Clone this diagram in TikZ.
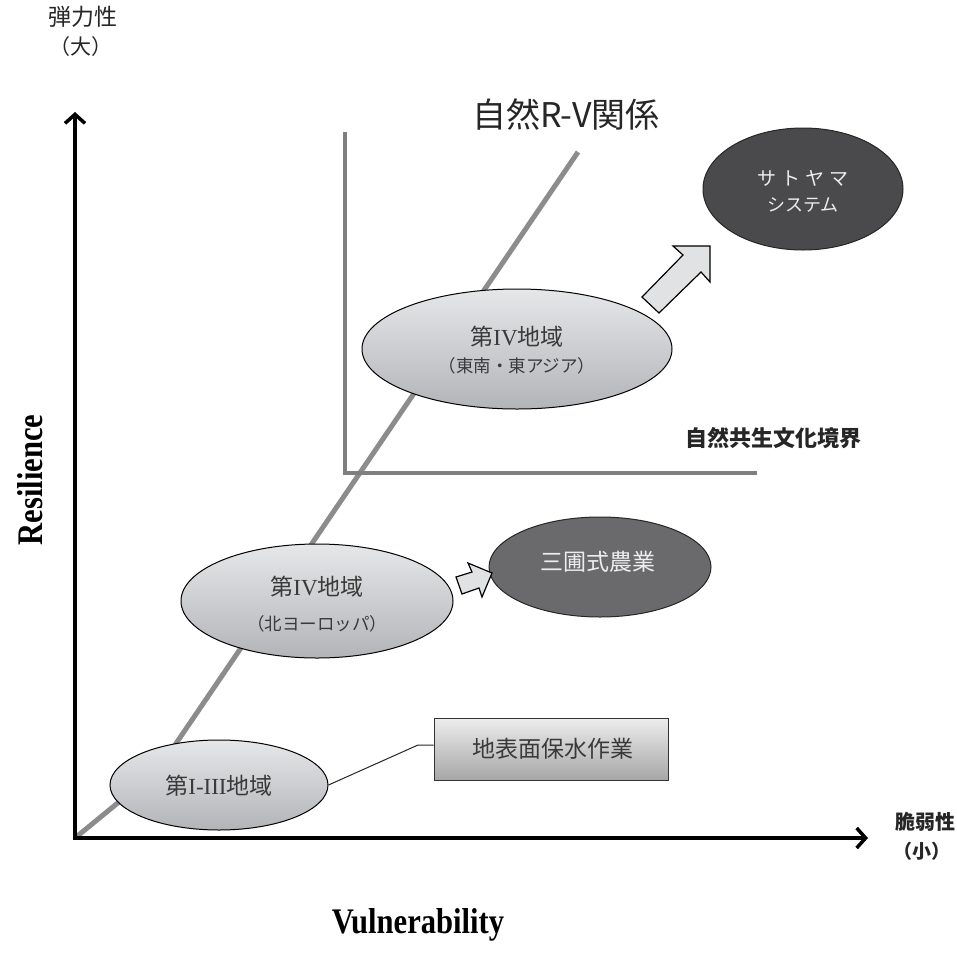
\documentclass[tikz,border=0pt]{standalone}
\usepackage{fontspec}
\setmainfont{Liberation Serif}
\newfontfamily\jp{Noto Sans CJK JP}
\usetikzlibrary{arrows.meta,shapes.geometric}
\definecolor{lgtop}{HTML}{E6E7E9}
\definecolor{lgbot}{HTML}{B3B4B7}
\definecolor{txtg}{HTML}{3A3A3A}
\definecolor{dk1}{HTML}{4A4A4C}
\definecolor{dk2}{HTML}{6A6A6D}
\definecolor{rvgray}{HTML}{8C8C8C}
\definecolor{bdgray}{HTML}{7F7F80}
\definecolor{arrfill}{HTML}{E1E2E4}
\definecolor{rtop}{HTML}{EDEDED}
\definecolor{rbot}{HTML}{A6A6A6}
\tikzset{
  lightell/.style={ellipse, draw=black, line width=1pt, top color=lgtop, bottom color=lgbot, inner sep=0pt},
  darkell/.style={ellipse, draw=black!85, line width=1pt, inner sep=0pt},
  lab/.style={inner sep=0pt, text=txtg},
  wlab/.style={inner sep=0pt, text=white!93!black},
  axisline/.style={line width=4pt, line join=miter, {Straight Barb[length=9pt,width=20pt,line width=3.5pt]}-{Straight Barb[length=9pt,width=20pt,line width=3.5pt]}},
  rvline/.style={draw=rvgray, line width=5pt},
  border/.style={draw=bdgray, line width=4.5pt},
  blockarrow/.style={draw=black, line width=1.2pt, fill=arrfill, line join=miter},
  axlab/.style={inner sep=0pt, text=black!85}
}
\begin{document}
\begin{tikzpicture}[x=1pt,y=-1pt]
\useasboundingbox (0,0) rectangle (957,962);
\fill[white] (0,0) rectangle (957,962);

% named coordinates
\coordinate (O) at (75,838);
\coordinate (ytip) at (75,112);
\coordinate (xtip) at (868,838);
\coordinate (bend) at (158,770);
\coordinate (rvtop) at (578,152);
\coordinate (bd1) at (345,132);
\coordinate (bd2) at (345,473);
\coordinate (bd3) at (757,473);

% R-V relation line and boundary
\draw[rvline] (O) -- (bend) -- (rvtop);
\draw[border] (bd1) -- (bd2) -- (bd3);

% axes
\draw[axisline] (ytip) -- (O) -- (xtip);

% title and labels
\node[axlab] (title) at (566,114) {\jp\fontsize{34pt}{38pt}\selectfont 自然R-V関係};
\node[axlab] (bound) at (773,438) {\jp\bfseries\fontsize{22pt}{24pt}\selectfont 自然共生文化境界};
\node[axlab] (ylab1) at (83,17) {\jp\fontsize{23pt}{26pt}\selectfont 弾力性};
\node[axlab] (ylab2) at (81,47) {\jp\fontsize{21pt}{24pt}\selectfont （大）};
\node[axlab] (xlab1) at (925,822) {\jp\bfseries\fontsize{20pt}{24pt}\selectfont 脆弱性};
\node[axlab] (xlab2) at (922,851) {\jp\bfseries\fontsize{19pt}{24pt}\selectfont （小）};
\node[inner sep=0pt, rotate=90] (res) at (30,480) {\fontsize{36pt}{40pt}\selectfont\bfseries\scalebox{0.85}[1]{Resilience}};
\node[inner sep=0pt] (vul) at (418,925) {\fontsize{36pt}{40pt}\selectfont\bfseries\scalebox{0.85}[1]{Vulnerability}};

% ellipses
\node[lightell, minimum width=310pt, minimum height=120pt] (ea) at (517,349) {};
\node[lab] (ea1) at (517,337) {\fontsize{23pt}{26pt}\selectfont{\jp 第}IV{\jp 地域}};
\node[lab] (ea2) at (517,366) {\jp\fontsize{17.5pt}{20pt}\selectfont （東南・東アジア）};

\node[lightell, minimum width=272pt, minimum height=114pt] (eb) at (317,601) {};
\node[lab] (eb1) at (317,587) {\fontsize{23pt}{26pt}\selectfont{\jp 第}IV{\jp 地域}};
\node[lab] (eb2) at (317,624) {\jp\fontsize{17.5pt}{20pt}\selectfont （北ヨーロッパ）};

\node[lightell, minimum width=218pt, minimum height=90pt] (ec) at (219,785) {};
\node[lab] (ec1) at (219,786) {\fontsize{23pt}{26pt}\selectfont{\jp 第}I-III{\jp 地域}};

\node[darkell, fill=dk1, minimum width=200pt, minimum height=122pt] (sato) at (803,189) {};
\node[wlab] (sato1) at (803,178) {\jp\fontsize{19pt}{22pt}\selectfont サ\hspace{5pt}ト\hspace{5pt}ヤ\hspace{5pt}マ};
\node[wlab] (sato2) at (803,205) {\jp\fontsize{18pt}{22pt}\selectfont システム};

\node[darkell, fill=dk2, minimum width=222pt, minimum height=100pt] (san) at (600,567) {};
\node[wlab] (san1) at (598,562) {\jp\fontsize{23pt}{26pt}\selectfont 三圃式農業};

% rectangle
\node[draw=black!80, line width=1pt, top color=rtop, bottom color=rbot, minimum width=234pt, minimum height=62pt, inner sep=0pt] (rect) at (551,749) {};
\node[lab] (rect1) at (553,749) {\jp\fontsize{23pt}{26pt}\selectfont 地表面保水作業};

% connector
\coordinate (knee) at (418,745);
\draw[line width=1pt, black!85] (ec.east) -- (knee) -- (knee -| rect.west);

% block arrows
\draw[blockarrow] (642,297) -- (683,255) -- (673,246) -- (710,246) -- (710,282) -- (701,272) -- (659,313) -- cycle;
\draw[blockarrow] (456,577) -- (472,572) -- (468,563) -- (492,573) -- (482,597) -- (479,588) -- (462,594) -- cycle;
\end{tikzpicture}
\end{document}
